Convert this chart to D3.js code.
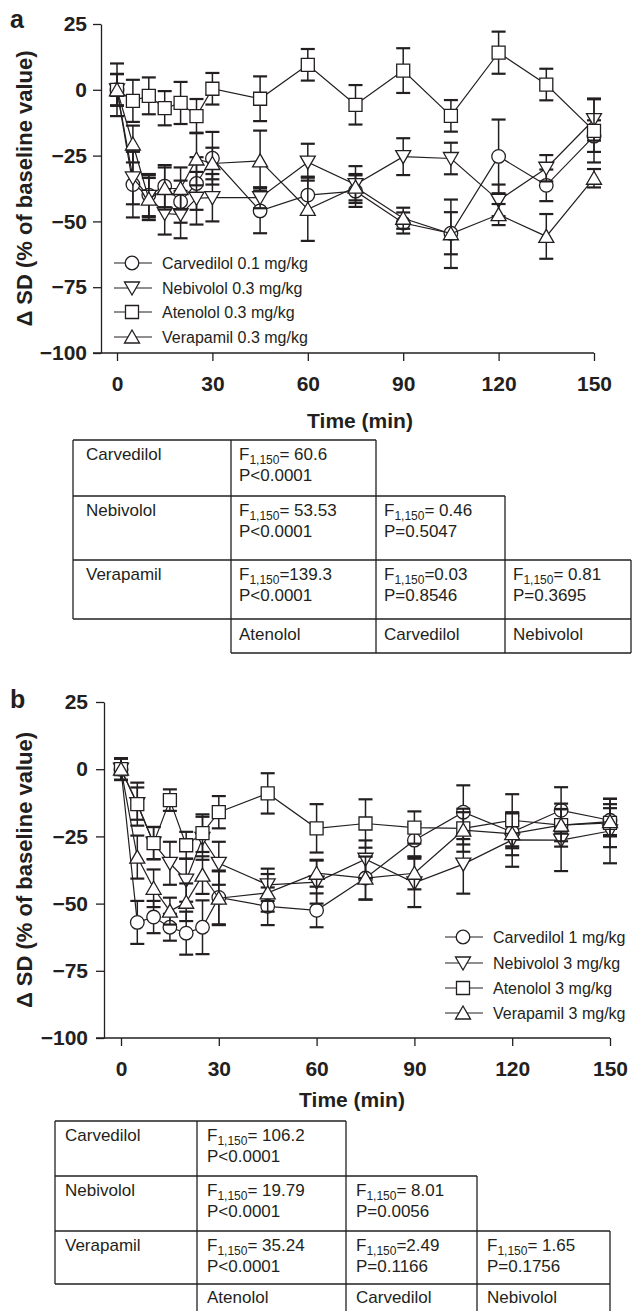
<!DOCTYPE html>
<html>
<head>
<meta charset="utf-8">
<script src="https://d3js.org/d3.v7.min.js"></script>
<style>
body { margin: 0; background: #fff; }
text { font-family: "Liberation Sans", Arial, Helvetica, sans-serif; fill: #231f20; }
</style>
</head>
<body>
<script>
// sampling times (min)
var times = [0, 5, 10, 15, 20, 25, 30, 45, 60, 75, 90, 105, 120, 135, 150];
var xTicks = [0, 30, 60, 90, 120, 150];
var yTicks = [25, 0, -25, -50, -75, -100];

// panel a: low doses
var carvA    = [0, -36, -40, -36.6, -42.5, -35.6, -26, -46, -40, -38.5, -50.6, -54.5, -25.3, -36.3, -17.6];
var carvAErr = [6, 12.5, 8, 8, 8, 10, 10, 8.5, 7, 6, 4, 8, 14, 6, 6];
var nebA     = [0, -33.5, -40.5, -47, -47.4, -41.2, -41, -41, -27.5, -36, -25.4, -26.1, -42, -29.8, -11.3];
var nebAErr  = [6, 10, 8, 8, 9, 10, 9, 4, 7, 7, 7, 6, 6, 5, 8];
var atenA    = [0, -4.2, -2.3, -7, -5, -10, 0.4, -3.4, 9.5, -5.7, 7.3, -9.9, 14.1, 2, -15.6];
var atenAErr = [10, 8, 7, 6.5, 8, 6.5, 6, 8.5, 6, 7.5, 8.5, 6, 8, 6, 12];
var verA     = [0, -20.6, -41.5, -37.5, -37.5, -26.3, -28, -27, -45.4, -37, -48.8, -54.7, -47.4, -55.7, -33.6];
var verAErr  = [6, 7, 8, 8, 8, 10, 6, 11.5, 12, 5, 4, 13, 4, 8.5, 3.5];

// panel b: high doses
var carvB    = [0, -57, -55, -58.8, -61, -58.8, -47.7, -51, -52.5, -40.5, -26.4, -16, -23.4, -15.3, -19];
var carvBErr = [4, 8, 6, 5, 8, 10, 10, 7, 6.3, 8, 6, 10, 6, 8.6, 6];
var nebB     = [0, -12.8, -27.5, -35, -41.3, -25.7, -35, -43, -42, -33.5, -42.3, -35.3, -26.3, -26.4, -23];
var nebBErr  = [4, 6, 6, 8, 8, 8, 8, 6, 8, 7, 9, 11, 10, 11.5, 12];
var atenB    = [0, -13, -27.5, -11.5, -28.3, -23.8, -16, -9, -22, -20.2, -21.7, -22, -19, -20.8, -20];
var atenBErr = [4, 8, 6, 4, 5, 7, 6, 7.5, 9, 9, 6, 6, 9.7, 6, 9];
var verB     = [0, -32.7, -44.3, -52.8, -49.5, -39.4, -48, -46, -38.7, -40.5, -38.7, -22.7, -24, -20.8, -19.5];
var verBErr  = [4, 8, 7, 5, 7, 7, 10, 7, 5, 8, 6, 8, 8, 8, 5];

var legendA = ["Carvedilol 0.1 mg/kg", "Nebivolol 0.3 mg/kg", "Atenolol 0.3 mg/kg", "Verapamil 0.3 mg/kg"];
var legendB = ["Carvedilol 1 mg/kg", "Nebivolol 3 mg/kg", "Atenolol 3 mg/kg", "Verapamil 3 mg/kg"];
var shapes = ["circle", "down", "square", "up"];

// comparison tables
var rowLabels = ["Carvedilol", "Nebivolol", "Verapamil"];
var colLabels = ["Atenolol", "Carvedilol", "Nebivolol"];
var fA = [["= 60.6"], ["= 53.53", "= 0.46"], ["=139.3", "=0.03", "= 0.81"]];
var pA = [["P<0.0001"], ["P<0.0001", "P=0.5047"], ["P<0.0001", "P=0.8546", "P=0.3695"]];
var fB = [["= 106.2"], ["= 19.79", "= 8.01"], ["= 35.24", "=2.49", "= 1.65"]];
var pB = [["P<0.0001"], ["P<0.0001", "P=0.0056"], ["P<0.0001", "P=0.1166", "P=0.1756"]];

var ink = "#231f20";
var svg = d3.select("body").append("svg").attr("width", 632).attr("height", 1311);

var symbolPath = {
    circle: d3.symbol().type(d3.symbolCircle).size(145)(),
    square: d3.symbol().type(d3.symbolSquare).size(169)(),
    up: "M0,-7L7.5,6L-7.5,6Z",
    down: "M-7.5,-6L7.5,-6L0,7Z"
};

function drawPanel(o) {
    var x = d3.scaleLinear().domain([0, 150]).range(o.xr);
    var y = d3.scaleLinear().domain([-100, 25]).range(o.yr);
    var g = svg.append("g");

    var ya = g.append("g")
        .attr("transform", "translate(" + o.axisX + ",0)")
        .call(d3.axisLeft(y).tickValues(yTicks).tickSize(8).tickSizeOuter(0).tickPadding(o.yPad));
    var xa = g.append("g")
        .attr("transform", "translate(0," + y(-100) + ")")
        .call(d3.axisBottom(x).tickValues(xTicks).tickSize(8).tickSizeOuter(0).tickPadding(15));
    xa.select(".domain").remove();
    g.append("line")
        .attr("x1", o.axisX - 8).attr("x2", x(150))
        .attr("y1", y(-100)).attr("y2", y(-100))
        .attr("stroke", ink).attr("stroke-width", 1.3);
    [ya, xa].forEach(function(a) {
        a.selectAll("path,line").attr("stroke", ink).attr("stroke-width", 1.3);
        a.selectAll("text").style("font-size", "21px").style("font-weight", "bold");
    });

    g.append("text")
        .attr("x", o.titleX).attr("y", y(-100) + o.titleDY)
        .attr("text-anchor", "middle")
        .style("font-size", "21px").style("font-weight", "bold")
        .text("Time (min)");
    g.append("text")
        .attr("transform", "translate(24," + (y(25) + y(-100)) / 2 + ") rotate(-90)")
        .attr("dy", "0.35em")
        .attr("text-anchor", "middle")
        .style("font-size", "22px").style("font-weight", "bold")
        .text("\u0394 SD (% of baseline value)");
    g.append("text")
        .attr("x", 10).attr("y", o.labelY)
        .style("font-size", "25px").style("font-weight", "bold")
        .text(o.label);

    var line = d3.line().x(function(d) { return x(d.t); }).y(function(d) { return y(d.v); });

    o.series.forEach(function(s) {
        var pts = times.map(function(t, i) { return { t: t, v: s.values[i], e: s.err[i] }; });
        var sg = g.append("g");
        sg.append("path").datum(pts)
            .attr("d", line).attr("fill", "none")
            .attr("stroke", ink).attr("stroke-width", 1.2);
        var eb = sg.selectAll(".eb").data(pts).enter().append("g");
        eb.append("line")
            .attr("x1", function(d) { return x(d.t); }).attr("x2", function(d) { return x(d.t); })
            .attr("y1", function(d) { return y(d.v - d.e); }).attr("y2", function(d) { return y(d.v + d.e); })
            .attr("stroke", ink).attr("stroke-width", 1.5);
        [-1, 1].forEach(function(sign) {
            eb.append("line")
                .attr("x1", function(d) { return x(d.t) - 7; }).attr("x2", function(d) { return x(d.t) + 7; })
                .attr("y1", function(d) { return y(d.v + sign * d.e); }).attr("y2", function(d) { return y(d.v + sign * d.e); })
                .attr("stroke", ink).attr("stroke-width", 2.2);
        });
        sg.selectAll(".sym").data(pts).enter().append("path")
            .attr("d", symbolPath[s.shape])
            .attr("transform", function(d) { return "translate(" + x(d.t) + "," + y(d.v) + ")"; })
            .attr("fill", "#fff").attr("stroke", ink).attr("stroke-width", 1.3);
    });

    var lg = g.selectAll(".leg").data(o.legend).enter().append("g")
        .attr("transform", function(d, i) { return "translate(" + o.legX + "," + o.legY[i] + ")"; });
    lg.append("line").attr("x1", -18).attr("x2", 20).attr("stroke", ink).attr("stroke-width", 1.2);
    lg.append("path")
        .attr("d", function(d, i) { return symbolPath[shapes[i]]; })
        .attr("fill", "#fff").attr("stroke", ink).attr("stroke-width", 1.3);
    lg.append("text").attr("x", 30).attr("dy", "0.36em")
        .style("font-size", "16px")
        .text(function(d) { return d; });
}

function drawTable(o) {
    var xs = o.xs, ys = o.ys;
    var g = svg.append("g").attr("stroke", ink).attr("stroke-width", 1.3);
    var segs = [];
    for (var r = 0; r < 3; r++) segs.push([xs[0], ys[r], xs[r + 2], ys[r]]);
    segs.push([xs[0], ys[3], xs[4], ys[3]]);
    segs.push([xs[1], ys[4], xs[4], ys[4]]);
    segs.push([xs[0], ys[0], xs[0], ys[3]]);
    for (var c = 1; c < 5; c++) segs.push([xs[c], ys[Math.max(0, c - 2)], xs[c], ys[4]]);
    g.selectAll("line").data(segs).enter().append("line")
        .attr("x1", function(d) { return d[0]; }).attr("y1", function(d) { return d[1]; })
        .attr("x2", function(d) { return d[2]; }).attr("y2", function(d) { return d[3]; });

    var tg = svg.append("g").style("font-size", "17px");
    rowLabels.forEach(function(name, r) {
        tg.append("text").attr("x", xs[0] + o.pad0).attr("y", ys[r] + 20).text(name);
        o.f[r].forEach(function(fv, j) {
            var t = tg.append("text").attr("x", xs[j + 1] + o.pad).attr("y", ys[r] + 20);
            t.append("tspan").text("F");
            t.append("tspan").attr("dy", 4).style("font-size", "12px").text("1,150");
            t.append("tspan").attr("dy", -4).text(fv);
            tg.append("text").attr("x", xs[j + 1] + o.pad).attr("y", ys[r] + 41).text(o.p[r][j]);
        });
    });
    colLabels.forEach(function(name, j) {
        tg.append("text").attr("x", xs[j + 1] + o.pad).attr("y", ys[3] + o.lastDY).text(name);
    });
}

drawPanel({
    label: "a", labelY: 28,
    xr: [117, 594], yr: [353, 24], axisX: 101, yPad: 6, titleX: 360, titleDY: 75,
    series: [
        { values: carvA, err: carvAErr, shape: "circle" },
        { values: nebA, err: nebAErr, shape: "down" },
        { values: atenA, err: atenAErr, shape: "square" },
        { values: verA, err: verAErr, shape: "up" }
    ],
    legend: legendA, legX: 132, legY: [263, 288, 312, 337]
});

drawPanel({
    label: "b", labelY: 708,
    xr: [121, 610], yr: [1038, 702], axisX: 104, yPad: 8, titleX: 352, titleDY: 69,
    series: [
        { values: carvB, err: carvBErr, shape: "circle" },
        { values: nebB, err: nebBErr, shape: "down" },
        { values: atenB, err: atenBErr, shape: "square" },
        { values: verB, err: verBErr, shape: "up" }
    ],
    legend: legendB, legX: 463, legY: [937, 963, 988, 1013]
});

drawTable({ xs: [73, 231, 376, 505, 631], ys: [440, 496, 560, 619, 653], f: fA, p: pA, pad0: 13, pad: 8, lastDY: 21 });
drawTable({ xs: [55, 197, 346, 477, 610], ys: [1121, 1176, 1231, 1284, 1320], f: fB, p: pB, pad0: 10, pad: 10, lastDY: 19 });
</script>
</body>
</html>
